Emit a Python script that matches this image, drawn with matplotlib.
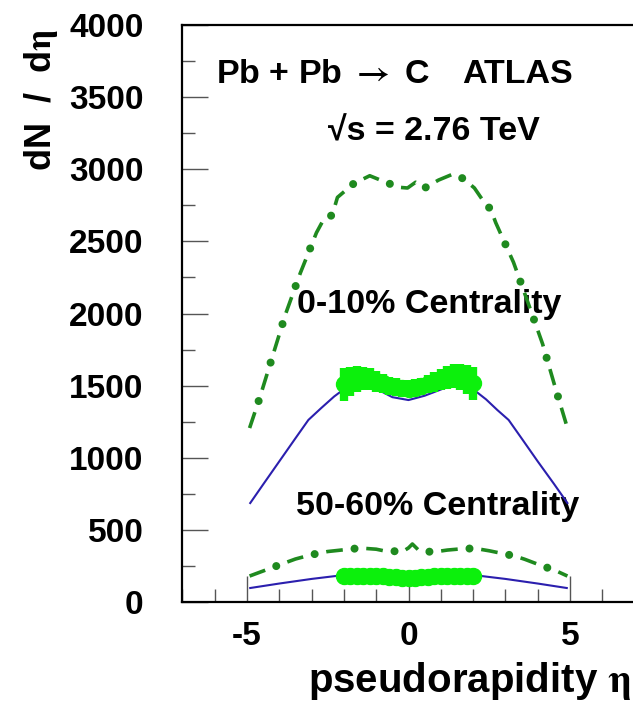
import matplotlib
matplotlib.use('Agg')
import matplotlib.pyplot as plt
from matplotlib.ticker import MultipleLocator

plt.rcParams['font.family'] = ['Liberation Sans', 'DejaVu Sans']
plt.rcParams['font.weight'] = 'bold'
plt.rcParams['mathtext.fontset'] = 'stix'
plt.rcParams['lines.scale_dashes'] = False
plt.rcParams['axes.unicode_minus'] = False

# 0-10% centrality: model curve (dash-dot), model curve (solid), data band
eta_dd10 = [-4.92, -4.6, -4.2, -3.8, -3.35, -2.85, -2.64, -2.36, -2.2, -1.7, -1.2, -0.65,
            -0.3, -0.03, 0.22, 0.5, 0.93, 1.36, 1.7, 2.04, 2.3, 2.55, 2.7, 3.25, 3.7,
            4.15, 4.52, 4.92]
dn_dd10 = [1206, 1420, 1710, 2000, 2280, 2560, 2647, 2683, 2805, 2900, 2955, 2905,
           2875, 2870, 2910, 2870, 2925, 2965, 2935, 2870, 2785, 2720, 2630, 2355, 2075,
           1790, 1505, 1206]

eta_sol10 = [-4.9, -4.5, -4.0, -3.5, -3.1, -2.7, -2.3, -2.0, -1.5, -1.1, -0.5, 0.0, 0.5, 1.2,
             1.6, 2.0, 2.4, 2.75, 3.1, 3.5, 4.0, 4.5, 4.92]
dn_sol10 = [686, 815, 975, 1135, 1262, 1345, 1425, 1475, 1505, 1490, 1420, 1400, 1430, 1490,
            1495, 1475, 1405, 1331, 1262, 1135, 975, 820, 686]

eta_dat = [-2.0, -1.8, -1.6, -1.4, -1.2, -1.0, -0.8, -0.6, -0.4, -0.2, 0.0,
           0.2, 0.4, 0.6, 0.8, 1.0, 1.2, 1.4, 1.6, 1.8, 2.0]
dn_dat10 = [1510, 1530, 1545, 1550, 1545, 1530, 1515, 1500, 1490, 1482, 1480,
            1485, 1495, 1510, 1525, 1540, 1555, 1565, 1560, 1540, 1515]
err_dat10 = [115, 100, 90, 82, 78, 72, 66, 62, 60, 58, 58,
             58, 60, 62, 66, 72, 78, 82, 90, 100, 115]

# 50-60% centrality
eta_dd50 = [-4.92, -4.5, -4.0, -3.5, -3.0, -2.5, -2.0, -1.5, -1.0, -0.7, -0.4, -0.2,
            0.0, 0.12, 0.3, 0.55, 0.8, 1.2, 1.6, 2.05, 2.5, 3.0, 3.3, 3.6, 4.0, 4.58, 4.92]
dn_dd50 = [180, 215, 257, 298, 328, 350, 362, 374, 366, 352, 352, 347,
           375, 402, 362, 350, 347, 360, 368, 372, 355, 332, 318, 296, 262, 215, 180]

eta_sol50 = [-4.9, -4.0, -3.0, -2.0, -1.0, 0.0, 1.0, 2.0, 3.0, 4.0, 4.9]
dn_sol50 = [97, 128, 160, 187, 185, 178, 185, 187, 160, 128, 97]

dn_dat50 = [180, 181, 182, 183, 182, 180, 177, 174, 171, 169, 168,
            169, 171, 174, 177, 180, 182, 183, 182, 181, 180]
err_dat50 = [34] * 21

c_dd = '#1f8a1f'
c_sol = '#2b1fae'
c_dat = '#0cf00c'

fig = plt.figure(figsize=(6.33, 7.02), dpi=100)
W, H = 633.0, 702.0
ax = fig.add_axes([182.4 / W, 100 / H, 452.2 / W, 577 / H])


def dashdot(x, y):
    # long dash + round dot, like the ROOT style line
    ax.plot(x, y, color=c_dd, lw=2.6, linestyle=(0, (12, 17)), dash_capstyle='butt', zorder=3)
    ax.plot(x, y, color=c_dd, lw=5.8, linestyle=(8.5, (0.01, 28.99)), dash_capstyle='round', zorder=3)


dashdot(eta_dd10, dn_dd10)
dashdot(eta_dd50, dn_dd50)
ax.plot(eta_sol10, dn_sol10, color=c_sol, lw=1.5, zorder=2)
ax.plot(eta_sol50, dn_sol50, color=c_sol, lw=1.5, zorder=2)

for vals, errs in [(dn_dat10, err_dat10), (dn_dat50, err_dat50)]:
    ax.errorbar(eta_dat, vals, yerr=errs, fmt='o', ms=11.5, color=c_dat, mec=c_dat,
                elinewidth=6, capsize=0, zorder=4)

ax.set_xlim(-7, 7)
ax.set_ylim(0, 4000)
ax.xaxis.set_major_locator(MultipleLocator(5))
ax.xaxis.set_minor_locator(MultipleLocator(1))
ax.yaxis.set_major_locator(MultipleLocator(500))
ax.yaxis.set_minor_locator(MultipleLocator(250))
ax.tick_params(which='both', direction='in', color='#555555', width=1.0)
ax.tick_params(which='major', length=19)
ax.tick_params(which='minor', length=9.5)
ax.tick_params(axis='y', which='major', labelsize=24, pad=28)
ax.tick_params(axis='x', which='major', labelsize=24, pad=14)
for lab in ax.get_xticklabels() + ax.get_yticklabels():
    lab.set_fontweight('bold')
for s in ax.spines.values():
    s.set_linewidth(1.6)


def px(xp, yp):
    return (xp - 408.5) / 32.3, (602 - yp) / 0.14425


fs = 24.5
ax.text(*px(216, 83), 'Pb + Pb $\\rightarrow$ C', fontsize=fs, fontweight='bold', va='baseline')
ax.text(*px(462, 83), 'ATLAS', fontsize=fs, fontweight='bold', va='baseline')
ax.text(*px(328, 140), '\u221as = 2.76 TeV', fontsize=fs, fontweight='bold', va='baseline')
ax.text(*px(297, 313), '0-10% Centrality', fontsize=fs, fontweight='bold', va='baseline', zorder=1)
ax.text(*px(296, 515), '50-60% Centrality', fontsize=fs, fontweight='bold', va='baseline', zorder=1)

fig.text(632 / W, (H - 692) / H, 'pseudorapidity $\\mathrm{\\eta}$', fontsize=29,
         fontweight='bold', ha='right', va='baseline')
fig.text(41 / W, 1 - 29 / H, 'dN  /  d$\\mathrm{\\eta}$', fontsize=26, fontweight='bold',
         rotation=90, ha='center', va='top')

fig.savefig('out.png', dpi=100)
